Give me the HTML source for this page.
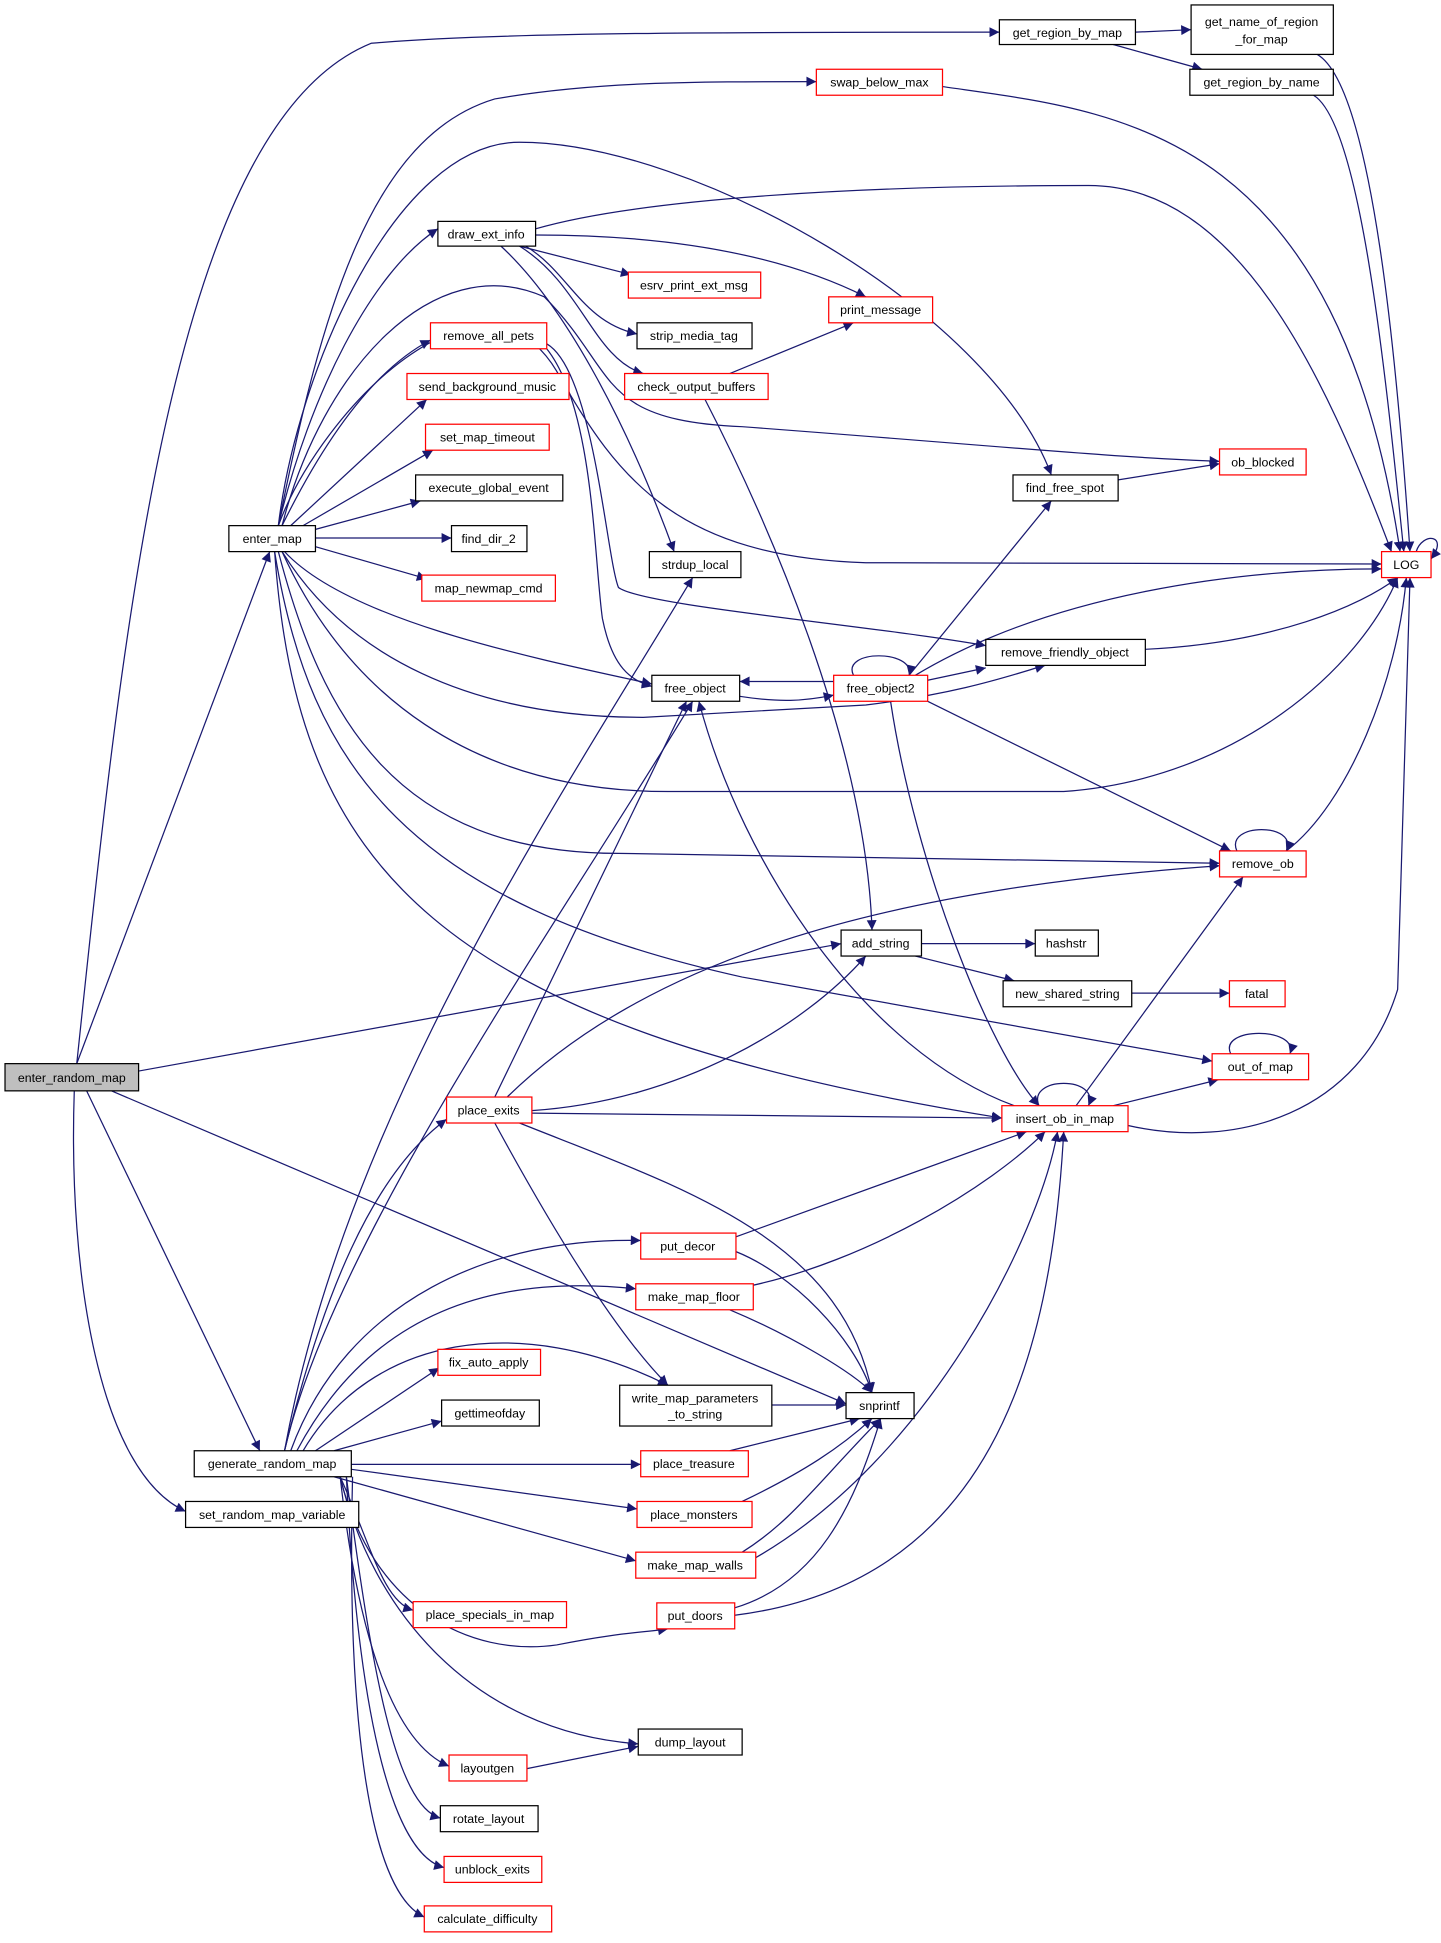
<!DOCTYPE html>
<html><head><meta charset="utf-8"><style>html,body{margin:0;padding:0;background:#fff}svg{display:block}</style></head>
<body>
<svg width="1441" height="1943" viewBox="0 0 1165 1571" xmlns="http://www.w3.org/2000/svg">
<defs>
<marker id="a" viewBox="0 0 10 10" refX="10" refY="5" markerWidth="9" markerHeight="8" markerUnits="userSpaceOnUse" orient="auto"><path d="M0,0 L10,5 L0,10 z" fill="#191970"/></marker>
</defs>
<g fill="none" stroke="#191970" stroke-width="1" marker-end="url(#a)">
<path d="M62,860 C100,500 140,100 300,35 C400,26 600,26 808,26"/>
<path d="M62,860 L218,446"/>
<path d="M112,866 L680,763"/>
<path d="M90,882 L684,1135"/>
<path d="M70,882 L210,1173"/>
<path d="M60,882 C55,1030 80,1190 150,1222"/>
<path d="M225,425 C260,250 300,110 400,80 C480,66 560,66 660,66"/>
<path d="M225,425 C250,320 300,220 354,185"/>
<path d="M228,425 C260,360 300,300 348,275"/>
<path d="M235,425 L345,323"/>
<path d="M245,425 L350,364"/>
<path d="M255,428 L340,405"/>
<path d="M255,435 L365,435"/>
<path d="M255,442 L345,468"/>
<path d="M230,446 C280,500 420,530 527,553"/>
<path d="M225,425 C240,300 320,115 420,115 C560,115 800,250 850,384"/>
<path d="M228,425 C260,300 350,200 440,240 C500,300 480,340 600,345 C800,360 900,370 986,373"/>
<path d="M225,425 C260,330 390,200 450,300 C500,390 550,450 700,455 L1117,456"/>
<path d="M228,446 C280,530 380,580 520,580 L700,570 C780,560 820,545 845,538"/>
<path d="M228,446 C280,560 380,640 540,640 L860,640 C1000,630 1100,540 1130,467"/>
<path d="M225,446 C260,580 320,690 500,690 L986,698"/>
<path d="M222,446 C250,620 330,730 600,790 L980,858"/>
<path d="M222,446 C240,700 350,830 810,904"/>
<path d="M442,278 C480,300 490,450 500,475 C520,490 700,505 797,522"/>
<path d="M442,282 C480,330 480,450 487,500 C495,540 510,550 527,555"/>
<path d="M433,185 C520,160 700,150 880,150 C1000,150 1070,300 1125,446"/>
<path d="M420,199 L510,222"/>
<path d="M433,190 C520,190 620,200 700,240"/>
<path d="M425,199 C460,220 470,260 515,270"/>
<path d="M420,199 C470,230 480,290 520,302"/>
<path d="M405,199 C460,250 510,350 545,446"/>
<path d="M590,302 L690,261"/>
<path d="M570,323 C620,420 700,600 705,752"/>
<path d="M918,26 L963,24"/>
<path d="M900,36 L972,56"/>
<path d="M1065,44 C1110,70 1130,300 1140,446"/>
<path d="M1062,77 C1100,100 1120,300 1135,446"/>
<path d="M762,70 C900,90 1080,100 1132,446"/>
<path d="M904,388 L986,375"/>
<path d="M1145,446 C1150,430 1172,432 1157,452"/>
<path d="M926,525 C1030,520 1100,490 1130,467"/>
<path d="M598,563 C630,568 650,567 674,562"/>
<path d="M674,551 L598,551"/>
<path d="M690,546 C680,525 740,525 735,546"/>
<path d="M750,550 L797,540"/>
<path d="M740,546 C850,480 1000,460 1117,460"/>
<path d="M735,546 L850,405"/>
<path d="M750,567 L995,688"/>
<path d="M720,567 C740,700 800,850 840,894"/>
<path d="M1040,688 C1090,650 1130,550 1137,467"/>
<path d="M1000,688 C990,665 1050,665 1040,688"/>
<path d="M745,763 L837,763"/>
<path d="M740,773 L820,793"/>
<path d="M915,803 L994,803"/>
<path d="M995,852 C985,830 1050,830 1043,852"/>
<path d="M900,894 L985,873"/>
<path d="M870,894 L1005,709"/>
<path d="M912,910 C1000,930 1100,900 1130,800 L1140,467"/>
<path d="M820,894 C700,850 600,700 565,567"/>
<path d="M840,894 C830,870 890,870 880,894"/>
<path d="M230,1173 C280,900 450,650 560,467"/>
<path d="M230,1173 C270,1000 450,750 560,567"/>
<path d="M230,1173 C260,1050 300,950 361,905"/>
<path d="M235,1173 C280,1050 400,1000 518,1003"/>
<path d="M240,1173 C300,1060 400,1030 514,1042"/>
<path d="M245,1173 C300,1080 420,1060 540,1120"/>
<path d="M255,1173 L355,1106"/>
<path d="M270,1173 L357,1149"/>
<path d="M284,1184 L518,1184"/>
<path d="M284,1188 L515,1220"/>
<path d="M270,1194 L514,1262"/>
<path d="M275,1194 C300,1300 380,1340 450,1330 C500,1320 520,1320 540,1317"/>
<path d="M275,1194 C300,1250 310,1295 334,1302"/>
<path d="M275,1194 C300,1300 380,1400 516,1410"/>
<path d="M275,1194 C290,1330 320,1410 363,1428"/>
<path d="M280,1194 C300,1350 320,1460 356,1470"/>
<path d="M280,1194 C290,1400 320,1500 359,1510"/>
<path d="M285,1194 C280,1400 300,1530 343,1550"/>
<path d="M400,887 L555,567"/>
<path d="M410,887 C520,780 700,720 986,700"/>
<path d="M430,898 C550,890 650,830 700,773"/>
<path d="M430,900 L810,904"/>
<path d="M420,908 C550,960 680,1000 705,1126"/>
<path d="M400,908 C450,1000 500,1080 540,1120"/>
<path d="M595,1000 L830,915"/>
<path d="M595,1012 C640,1030 690,1080 705,1126"/>
<path d="M605,1040 C700,1020 800,960 845,915"/>
<path d="M590,1059 C640,1080 690,1110 705,1126"/>
<path d="M624,1136 L684,1136"/>
<path d="M590,1173 L695,1147"/>
<path d="M600,1214 C650,1190 680,1170 705,1147"/>
<path d="M600,1255 C640,1230 660,1200 712,1147"/>
<path d="M610,1260 C750,1180 840,1000 855,915"/>
<path d="M594,1300 C660,1280 690,1220 712,1147"/>
<path d="M594,1306 C800,1280 850,1100 860,915"/>
<path d="M426,1430 L516,1412"/>
</g>
<g font-family="Liberation Sans, sans-serif" font-size="10" text-anchor="middle" stroke-width="1">
<g fill="#fff" stroke="#000">
<rect x="4" y="860" width="108" height="22" fill="#bfbfbf"/>
<rect x="185" y="425" width="70" height="21"/>
<rect x="157" y="1173" width="127" height="21"/>
<rect x="150" y="1214" width="140" height="21"/>
<rect x="808" y="16" width="110" height="20"/>
<rect x="963" y="4" width="115" height="40"/>
<rect x="962" y="56" width="116" height="21"/>
<rect x="354" y="179" width="79" height="20"/>
<rect x="515" y="261" width="93" height="21"/>
<rect x="336" y="384" width="119" height="21"/>
<rect x="365" y="425" width="61" height="21"/>
<rect x="525" y="446" width="74" height="21"/>
<rect x="819" y="384" width="85" height="21"/>
<rect x="797" y="517" width="129" height="21"/>
<rect x="527" y="546" width="71" height="21"/>
<rect x="680" y="752" width="65" height="21"/>
<rect x="837" y="752" width="51" height="21"/>
<rect x="811" y="793" width="104" height="21"/>
<rect x="357" y="1132" width="79" height="21"/>
<rect x="501" y="1120" width="123" height="33"/>
<rect x="684" y="1126" width="55" height="21"/>
<rect x="516" y="1398" width="84" height="21"/>
<rect x="356" y="1460" width="79" height="21"/>
</g>
<g fill="#fff" stroke="#ff0000">
<rect x="660" y="56" width="102" height="21"/>
<rect x="508" y="220" width="107" height="21"/>
<rect x="670" y="240" width="84" height="21"/>
<rect x="348" y="261" width="94" height="21"/>
<rect x="505" y="302" width="116" height="21"/>
<rect x="329" y="302" width="131" height="21"/>
<rect x="344" y="343" width="100" height="21"/>
<rect x="341" y="465" width="108" height="21"/>
<rect x="986" y="363" width="70" height="21"/>
<rect x="1117" y="446" width="40" height="21"/>
<rect x="674" y="546" width="76" height="21"/>
<rect x="986" y="688" width="70" height="21"/>
<rect x="994" y="793" width="45" height="21"/>
<rect x="980" y="852" width="78" height="21"/>
<rect x="810" y="894" width="102" height="21"/>
<rect x="361" y="887" width="69" height="21"/>
<rect x="518" y="997" width="77" height="21"/>
<rect x="514" y="1038" width="95" height="21"/>
<rect x="354" y="1091" width="83" height="21"/>
<rect x="518" y="1173" width="87" height="21"/>
<rect x="515" y="1214" width="93" height="21"/>
<rect x="514" y="1255" width="97" height="21"/>
<rect x="334" y="1295" width="124" height="21"/>
<rect x="531" y="1296" width="63" height="21"/>
<rect x="363" y="1419" width="63" height="21"/>
<rect x="359" y="1501" width="79" height="21"/>
<rect x="343" y="1541" width="103" height="21"/>
</g>
<g fill="#000">
<text x="58" y="875">enter_random_map</text>
<text x="220" y="439">enter_map</text>
<text x="220" y="1187">generate_random_map</text>
<text x="220" y="1228">set_random_map_variable</text>
<text x="863" y="30">get_region_by_map</text>
<text x="1020" y="21">get_name_of_region</text>
<text x="1020" y="35">_for_map</text>
<text x="1020" y="70">get_region_by_name</text>
<text x="393" y="193">draw_ext_info</text>
<text x="561" y="275">strip_media_tag</text>
<text x="395" y="398">execute_global_event</text>
<text x="395" y="439">find_dir_2</text>
<text x="562" y="460">strdup_local</text>
<text x="861" y="398">find_free_spot</text>
<text x="861" y="531">remove_friendly_object</text>
<text x="562" y="560">free_object</text>
<text x="712" y="766">add_string</text>
<text x="862" y="766">hashstr</text>
<text x="863" y="807">new_shared_string</text>
<text x="396" y="1146">gettimeofday</text>
<text x="562" y="1134">write_map_parameters</text>
<text x="562" y="1147">_to_string</text>
<text x="711" y="1140">snprintf</text>
<text x="558" y="1412">dump_layout</text>
<text x="395" y="1474">rotate_layout</text>
<text x="711" y="70">swap_below_max</text>
<text x="561" y="234">esrv_print_ext_msg</text>
<text x="712" y="254">print_message</text>
<text x="395" y="275">remove_all_pets</text>
<text x="563" y="316">check_output_buffers</text>
<text x="394" y="316">send_background_music</text>
<text x="394" y="357">set_map_timeout</text>
<text x="395" y="479">map_newmap_cmd</text>
<text x="1021" y="377">ob_blocked</text>
<text x="1137" y="460">LOG</text>
<text x="712" y="560">free_object2</text>
<text x="1021" y="702">remove_ob</text>
<text x="1016" y="807">fatal</text>
<text x="1019" y="866">out_of_map</text>
<text x="861" y="908">insert_ob_in_map</text>
<text x="395" y="901">place_exits</text>
<text x="556" y="1011">put_decor</text>
<text x="561" y="1052">make_map_floor</text>
<text x="395" y="1105">fix_auto_apply</text>
<text x="561" y="1187">place_treasure</text>
<text x="561" y="1228">place_monsters</text>
<text x="562" y="1269">make_map_walls</text>
<text x="396" y="1309">place_specials_in_map</text>
<text x="562" y="1310">put_doors</text>
<text x="394" y="1433">layoutgen</text>
<text x="398" y="1515">unblock_exits</text>
<text x="394" y="1555">calculate_difficulty</text>
</g>
</g>
</svg>
</body></html>
